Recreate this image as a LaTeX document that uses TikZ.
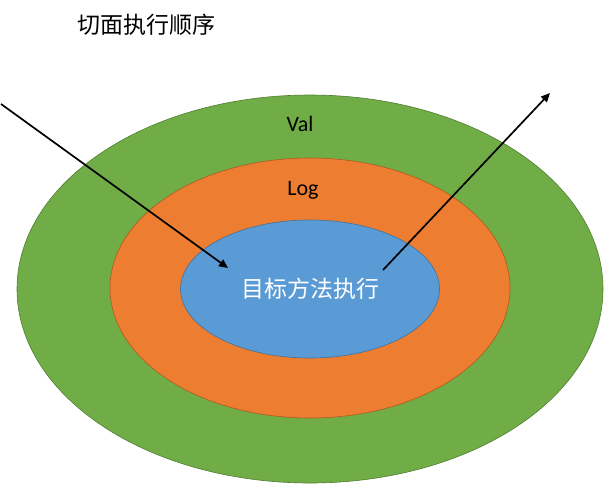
\documentclass[tikz,border=0pt]{standalone}
\usepackage{fontspec}
\setmainfont{Carlito}
\newfontfamily\cjk{Noto Sans CJK SC}
\usetikzlibrary{shapes.geometric,arrows.meta}
\definecolor{valgreen}{HTML}{70AD47}
\definecolor{loggreen}{HTML}{507E32}
\definecolor{logorange}{HTML}{ED7D31}
\definecolor{logedge}{HTML}{AE5A21}
\definecolor{targetblue}{HTML}{5B9BD5}
\definecolor{targetedge}{HTML}{41719C}
\begin{document}
\begin{tikzpicture}[
		x=1pt, y=-1pt,
		ring/.style={ellipse,inner sep=0pt,line width=0.6pt},
		label/.style={font=\fontsize{22}{25}\selectfont},
		flow/.style={line width=1.7pt,-{Triangle[length=9pt,width=8pt]}}
		]
		\useasboundingbox (0,0) rectangle (604,485);
		\node[ring,fill=valgreen,draw=loggreen,minimum width=586pt,minimum height=388pt] (val) at (310,289) {};
		\node[ring,fill=logorange,draw=logedge,minimum width=400pt,minimum height=260pt] (log) at (310,288) {};
		\node[ring,fill=targetblue,draw=targetedge,minimum width=259pt,minimum height=138pt,
			text=white,font=\cjk\fontsize{23}{26}\selectfont] (target) at (310,289) {目标方法执行};
		\node[label] (vallabel) at (300,124) {Val};
		\node[label] (loglabel) at (303,190) {Log};
		\node[font=\cjk\fontsize{23}{26}\selectfont,anchor=west] (title) at (74,25) {切面执行顺序};
		\coordinate (in) at (1,104);
		\coordinate (inend) at (228,268);
		\coordinate (out) at (383,270);
		\coordinate (outend) at (550,93);
		\draw[flow] (in) -- (inend);
		\draw[flow] (out) -- (outend);
	\end{tikzpicture}
\end{document}
